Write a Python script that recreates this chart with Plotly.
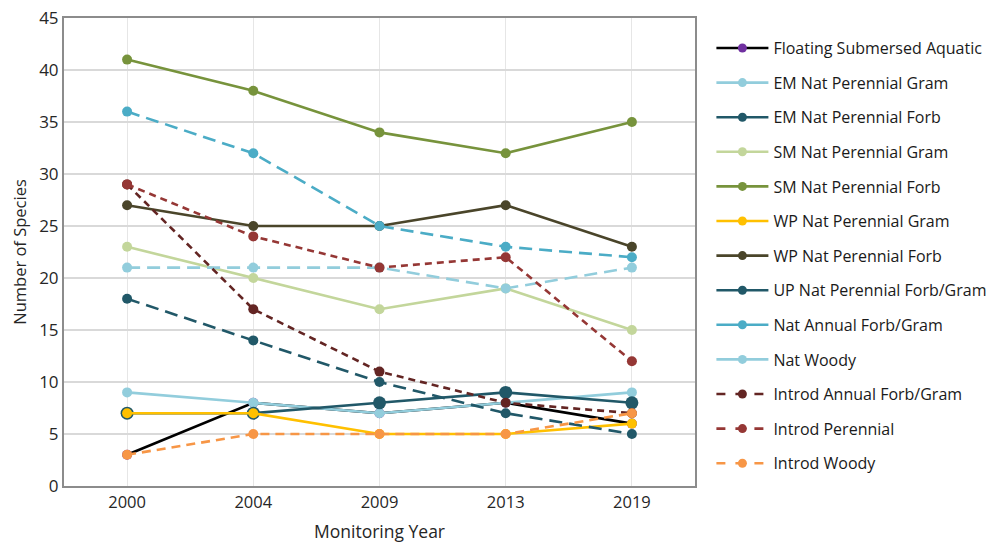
import plotly.graph_objects as go

# Monitoring years (categorical x axis)
years = ["2000", "2004", "2009", "2013", "2019"]

# Species counts per functional group
floating_submersed_aquatic = [3, 8, 7, 8, 6]
em_nat_perennial_gram = [9, 8, 7, 8, 9]
em_nat_perennial_forb = [7, 7, 8, 9, 8]
sm_nat_perennial_gram = [23, 20, 17, 19, 15]
sm_nat_perennial_forb = [41, 38, 34, 32, 35]
wp_nat_perennial_gram = [7, 7, 5, 5, 6]
wp_nat_perennial_forb = [27, 25, 25, 27, 23]
up_nat_perennial_forb_gram = [18, 14, 10, 7, 5]
nat_annual_forb_gram = [36, 32, 25, 23, 22]
nat_woody = [21, 21, 21, 19, 21]
introd_annual_forb_gram = [29, 17, 11, 8, 7]
introd_perennial = [29, 24, 21, 22, 12]
introd_woody = [3, 5, 5, 5, 7]

y_ticks = [0, 5, 10, 15, 20, 25, 30, 35, 40, 45]

# name, values, line colour, marker colour, plot dash, legend dash, marker size
series = [
    ("Floating Submersed Aquatic", floating_submersed_aquatic, "#000000", "#7030A0", "solid", "solid", 10),
    ("EM Nat Perennial Gram", em_nat_perennial_gram, "#92CDDC", "#92CDDC", "solid", "solid", 10),
    ("EM Nat Perennial Forb", em_nat_perennial_forb, "#215868", "#215868", "solid", "solid", 13),
    ("SM Nat Perennial Gram", sm_nat_perennial_gram, "#C3D69B", "#C3D69B", "solid", "solid", 10),
    ("SM Nat Perennial Forb", sm_nat_perennial_forb, "#77933C", "#77933C", "solid", "solid", 10),
    ("WP Nat Perennial Gram", wp_nat_perennial_gram, "#FFC000", "#FFC000", "solid", "solid", 10),
    ("WP Nat Perennial Forb", wp_nat_perennial_forb, "#4A452A", "#4A452A", "solid", "solid", 10),
    ("UP Nat Perennial Forb/Gram", up_nat_perennial_forb_gram, "#215868", "#215868", "13px,7px", "solid", 10),
    ("Nat Annual Forb/Gram", nat_annual_forb_gram, "#4BACC6", "#4BACC6", "13px,7px", "solid", 10),
    ("Nat Woody", nat_woody, "#92CDDC", "#92CDDC", "13px,7px", "solid", 10),
    ("Introd Annual Forb/Gram", introd_annual_forb_gram, "#632523", "#632523", "7px,5px", "9px,10px", 10),
    ("Introd Perennial", introd_perennial, "#953735", "#953735", "7px,5px", "9px,10px", 10),
    ("Introd Woody", introd_woody, "#F79646", "#F79646", "9px,6px", "9px,10px", 10),
]

fig = go.Figure()

for name, values, lcolor, mcolor, dash, _, msize in series:
    fig.add_trace(go.Scatter(
        x=years, y=values, name=name, mode="lines+markers",
        line=dict(color=lcolor, width=2.6, dash=dash),
        marker=dict(color=mcolor, size=msize),
        showlegend=False, legendgroup=name,
    ))

# Legend entries with their own line styles
for name, values, lcolor, mcolor, _, ldash, _ in series:
    fig.add_trace(go.Scatter(
        x=[None], y=[None], name=name, mode="lines+markers",
        line=dict(color=lcolor, width=2.6, dash=ldash),
        marker=dict(color=mcolor, size=9),
        legendgroup=name, showlegend=True,
    ))

font_family = "Open Sans, sans-serif"

fig.update_layout(
    width=1004, height=543,
    margin=dict(l=64, r=307, t=18, b=57),
    paper_bgcolor="white", plot_bgcolor="white",
    font=dict(family=font_family, color="#262626", size=15),
    legend=dict(
        x=1.026, y=0.972, xanchor="left", yanchor="top",
        traceorder="grouped", tracegroupgap=10.8,
        itemwidth=52, font=dict(size=16, color="#1a1a1a"),
        bgcolor="rgba(0,0,0,0)", maxheight=600,
    ),
    xaxis=dict(
        type="category", categoryorder="array", categoryarray=years,
        range=[-0.5, 4.5], automargin=False,
        showgrid=True, gridcolor="#E6E6E6", gridwidth=1,
        showline=True, linecolor="#8C8C8C", linewidth=2, mirror=True,
        ticks="", tickfont=dict(size=16.5), ticklabelstandoff=0,
        title=dict(text="Monitoring Year", font=dict(size=17.5), standoff=16),
    ),
    yaxis=dict(
        range=[0, 45], tickvals=y_ticks, automargin=False,
        showgrid=True, gridcolor="#D9D9D9", gridwidth=1.5,
        showline=True, linecolor="#8C8C8C", linewidth=2, mirror=True,
        zeroline=False, ticks="", tickfont=dict(size=17),
        title=dict(text="Number of Species", font=dict(size=16.5), standoff=8),
    ),
)

fig.write_html("out.html")
